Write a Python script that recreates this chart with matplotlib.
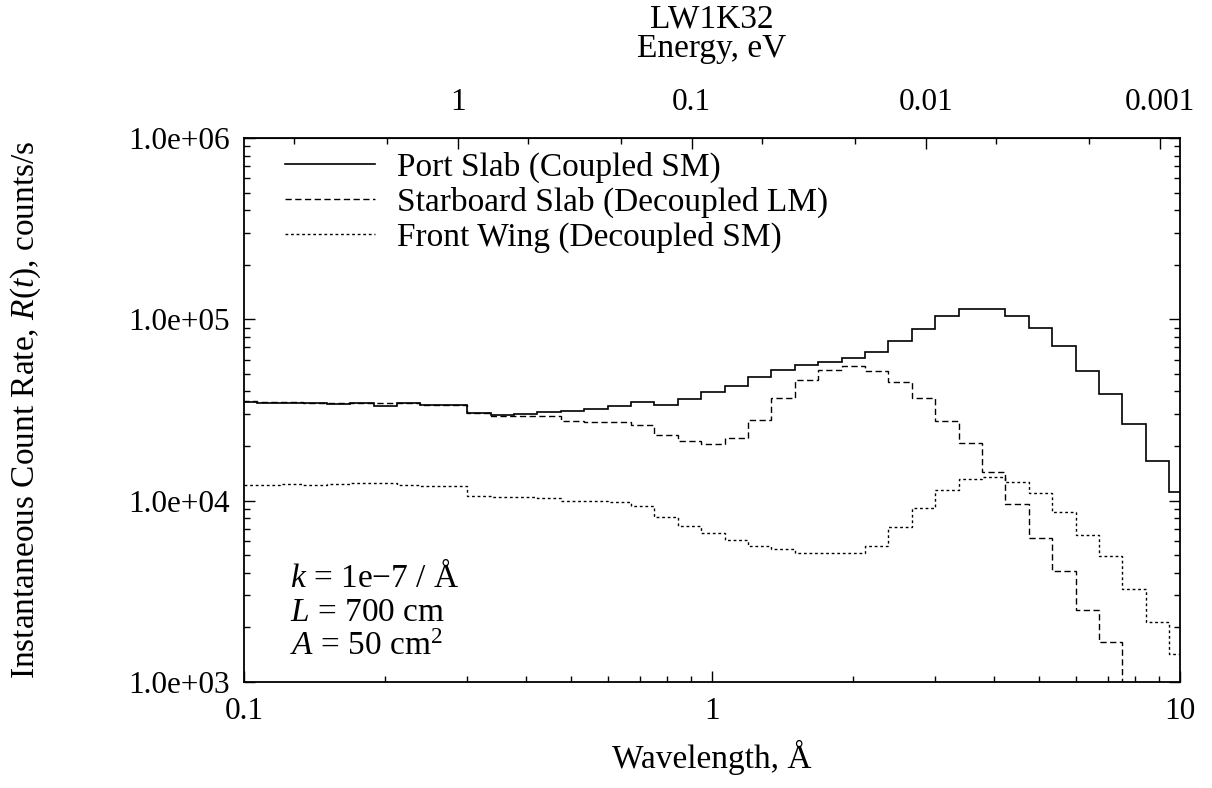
import matplotlib
matplotlib.use("Agg")
import matplotlib.pyplot as plt
import numpy as np
from matplotlib.ticker import FixedLocator, NullFormatter, LogLocator, FuncFormatter

plt.rcParams['font.family'] = ['Liberation Serif', 'DejaVu Serif']
plt.rcParams['mathtext.fontset'] = 'custom'
plt.rcParams['mathtext.rm'] = 'Liberation Serif'
plt.rcParams['mathtext.it'] = 'Liberation Serif:italic'

# histogram bin edges (0.05 decade bins), wavelength in Angstrom
edges = 0.3 * 10 ** (0.05 * np.arange(-10, 32))

port = [34860, 34430, 34430, 34430, 34000, 34690, 33280, 34430, 33820, 33820,
        30320, 29680, 30060, 30720, 31350, 32150, 33400, 35000, 33550, 36220, 39590,
        42900, 48300, 52360, 56230, 57970, 60990, 66320, 75950, 88800, 104300,
        114000, 114000, 103900, 89900, 71000, 51900, 38600, 26570, 16620, 11120]
starboard = [35590, 35140, 34860, 34430, 34690, 34690, 34430, 34690, 33820, 33550,
             30560, 29420, 29420, 29300, 27610, 27260, 27260, 26030, 23120, 21420, 20620,
             22250, 27860, 36680, 46290, 52550, 55080, 51900, 45320, 36680, 27510,
             20720, 14450, 9590, 6200, 4110, 2495, 1655, 800, 500, 300]
front = [12200, 12200, 12310, 12200, 12310, 12460, 12570, 12200, 12100, 12100,
         10660, 10520, 10440, 10300, 9997, 9960, 9870, 9380, 8160, 7280, 6600,
         6070, 5620, 5390, 5125, 5125, 5125, 5620, 7130, 9070, 11450,
         13110, 13560, 12730, 10970, 8620, 6470, 4955, 3257, 2150, 1427]

labels = ["Port Slab (Coupled SM)", "Starboard Slab (Decoupled LM)", "Front Wing (Decoupled SM)"]
notes = ["$k$ = 1e\u22127 / \u00c5", "$L$ = 700 cm", "$A$ = 50 cm$^2$"]

e_major = [1, 0.1, 0.01, 0.001]
e_major_lab = ["1", "0.1", "0.01", "0.001"]
e_minor = [5, 2, 0.5, 0.2, 0.05, 0.02, 0.005, 0.002]

fig = plt.figure(figsize=(12.12, 7.88), dpi=100)
ax = fig.add_axes([244/1212, 1-682/788, 936/1212, 544/788])

ax.stairs(port, edges, baseline=None, color='black', lw=1.2, ls='-', label=labels[0])
ax.stairs(starboard, edges, baseline=None, color='black', lw=1.0, ls=(0, (4.5, 2.5)), label=labels[1])
ax.stairs(front, edges, baseline=None, color='black', lw=1.0, ls=(0, (2.0, 2.0)), label=labels[2])

ax.set_xscale('log')
ax.set_yscale('log')
ax.set_xlim(0.1, 10)
ax.set_ylim(1e3, 1e6)

ax.xaxis.set_major_formatter(FuncFormatter(lambda v, p: f"{v:g}"))
ax.yaxis.set_major_formatter(FuncFormatter(lambda v, p: f"{v:.1e}"))
ax.yaxis.set_minor_locator(LogLocator(base=10, subs=range(2, 10)))
ax.xaxis.set_minor_locator(LogLocator(base=10, subs=range(2, 10)))
ax.xaxis.set_minor_formatter(NullFormatter())
ax.yaxis.set_minor_formatter(NullFormatter())

ax.tick_params(which='both', direction='in', top=False, right=True, labelsize=22.5, width=1.0)
ax.tick_params(which='major', length=8)
ax.tick_params(which='minor', length=4.5)
ax.tick_params(axis='x', pad=11)
ax.tick_params(axis='y', pad=10)
for s in ax.spines.values():
    s.set_linewidth(1.3)

ax.set_xlabel("Wavelength, \u00c5", fontsize=24, labelpad=10)
ax.set_ylabel("Instantaneous Count Rate, $R(t)$, counts/s", fontsize=24)
ax.yaxis.set_label_coords((43 - 244) / 936, 0.5)

def lam2e(lam):
    with np.errstate(divide='ignore', invalid='ignore'):
        return 0.0818042 / np.asarray(lam, float) ** 2

def e2lam(e):
    with np.errstate(divide='ignore', invalid='ignore'):
        return np.sqrt(0.0818042 / np.asarray(e, float))

sec = ax.secondary_xaxis('top', functions=(lam2e, e2lam))
sec.set_xticks(e_major)
sec.set_xticklabels(e_major_lab)
sec.xaxis.set_minor_locator(FixedLocator(e_minor))
sec.xaxis.set_minor_formatter(NullFormatter())
sec.tick_params(which='both', direction='in', labelsize=22.5, width=1.0, pad=15)
sec.tick_params(which='major', length=8)
sec.tick_params(which='minor', length=4.5)

fig.text(712/1212, 1-19/788, "LW1K32", ha='center', va='center', fontsize=24)
fig.text(712/1212, 1-49/788, "Energy, eV", ha='center', va='center', fontsize=24)

leg = ax.legend(loc='upper left', bbox_to_anchor=(0.044, 0.974), frameon=False, fontsize=24,
                handlelength=2.7, handletextpad=0.65, labelspacing=0.1, borderpad=0, borderaxespad=0)

ys = [0.1746, 0.112, 0.0496]
for t, yy in zip(notes, ys):
    ax.text(0.049, yy, t, transform=ax.transAxes, fontsize=24, va='baseline', ha='left')

fig.savefig("out.png", dpi=100)
